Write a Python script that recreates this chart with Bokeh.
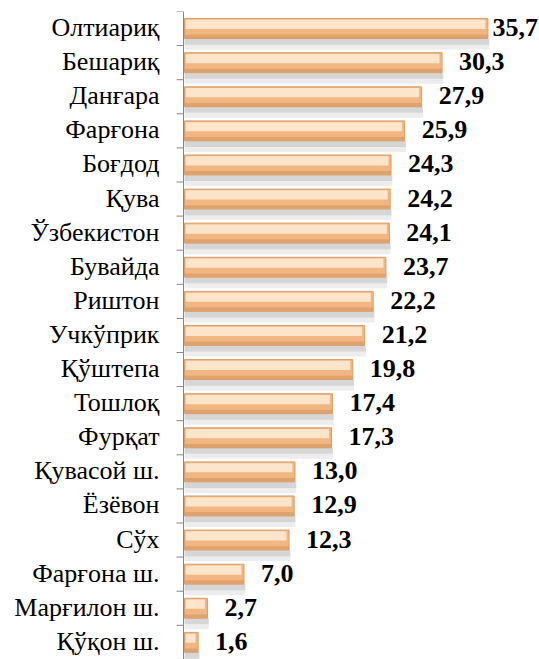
from bokeh.plotting import figure
from bokeh.models import ColumnDataSource, Range1d, LabelSet, Span
from bokeh.embed import file_html
from bokeh.resources import INLINE

categories = ["Олтиариқ", "Бешариқ", "Данғара", "Фарғона", "Боғдод", "Қува",
              "Ўзбекистон", "Бувайда", "Риштон", "Учкўприк", "Қўштепа", "Тошлоқ",
              "Фурқат", "Қувасой ш.", "Ёзёвон", "Сўх", "Фарғона ш.",
              "Марғилон ш.", "Қўқон ш."]
values = [35.7, 30.3, 27.9, 25.9, 24.3, 24.2, 24.1, 23.7, 22.2, 21.2, 19.8,
          17.4, 17.3, 13.0, 12.9, 12.3, 7.0, 2.7, 1.6]
value_labels = [f"{v:.1f}".replace(".", ",") for v in values]

n = len(categories)
pos = list(range(n))

SERIF = "'Liberation Serif', 'Times New Roman', serif"

W, H = 539, 659
BT = 11
axis_px = 184          # pixel column of the value zero
frame_w = W
frame_h = H - BT
px_per_unit = 8.5
row_px = 34.1
x0 = -axis_px / px_per_unit
x1 = x0 + frame_w / px_per_unit
y_top = -0.5
y_bot = y_top + frame_h / row_px

p = figure(width=W, height=H, output_backend="svg", toolbar_location=None,
           x_range=Range1d(x0, x1), y_range=Range1d(y_bot, y_top),
           x_axis_location=None, y_axis_location=None,
           min_border_left=0, min_border_top=BT,
           min_border_right=0, min_border_bottom=0)
p.outline_line_color = None
p.xgrid.visible = False
p.ygrid.visible = False
p.background_fill_color = "white"
p.border_fill_color = "white"

# value-label offsets (px), kept inside the frame for the longest bar
lab_w = 47
offsets = []
for v in values:
    end_px = (v - x0) * px_per_unit
    offsets.append(min(17, frame_w - end_px - lab_w))

bh = 0.584  # bar thickness (fraction of a row)
src = ColumnDataSource(dict(
    y=pos, v=values, lab=value_labels, off=offsets, cat=categories,
    zero=[0] * n,
    ys1=[y + bh / 2 + 0.09 for y in pos], ys2=[y + bh / 2 + 0.25 for y in pos],
    yhi=[y - 0.12 for y in pos], ylo=[y + 0.23 for y in pos],
    vhi=[max(v - 0.3, 0.12) for v in values],
    vs=[v + 0.15 for v in values],
))

# soft shadow (two gray bands under each bar)
p.hbar(y="ys2", left=0.0, right="vs", height=0.15, source=src,
       fill_color="#d8d8d8", fill_alpha=0.45, line_color=None)
p.hbar(y="ys1", left=0.0, right="vs", height=0.18, source=src,
       fill_color="#b4b4b4", fill_alpha=0.55, line_color=None)
# base bar
p.hbar(y="y", left=0, right="v", height=bh, source=src,
       fill_color="#f1b682", line_color="#d99d68", line_width=1)
# highlight on the upper half
p.hbar(y="yhi", left=0.12, right="vhi", height=0.27, source=src,
       fill_color="#fde5cb", line_color=None)
# darker lower edge
p.hbar(y="ylo", left=0.05, right="v", height=0.1, source=src,
       fill_color="#dc9d66", fill_alpha=0.8, line_color=None)

# category axis: line at zero, ticks on category boundaries
axis_color = "#868686"
tick_len = 7 / px_per_unit
p.add_layout(Span(location=-1 / px_per_unit, dimension="height",
                  line_color=axis_color, line_width=1))
bounds = [i - 0.5 for i in range(n + 1)]
p.segment(x0=[-1 / px_per_unit - tick_len] * len(bounds), y0=bounds,
          x1=[-1 / px_per_unit] * len(bounds), y1=bounds,
          line_color=axis_color, line_width=1)

# category labels
cat_labels = LabelSet(x="zero", y="y", text="cat", source=src,
                      x_offset=-25, y_offset=1,
                      text_font=SERIF, text_font_style="normal",
                      text_font_size="26px", text_baseline="middle",
                      text_align="right", text_color="black")
p.add_layout(cat_labels)

# value labels
labels = LabelSet(x="v", y="y", text="lab", x_offset="off", y_offset=1,
                  source=src, text_font=SERIF, text_font_style="bold",
                  text_font_size="26px", text_baseline="middle",
                  text_align="left", text_color="black")
p.add_layout(labels)

open("out.html", "w").write(file_html(p, INLINE))
